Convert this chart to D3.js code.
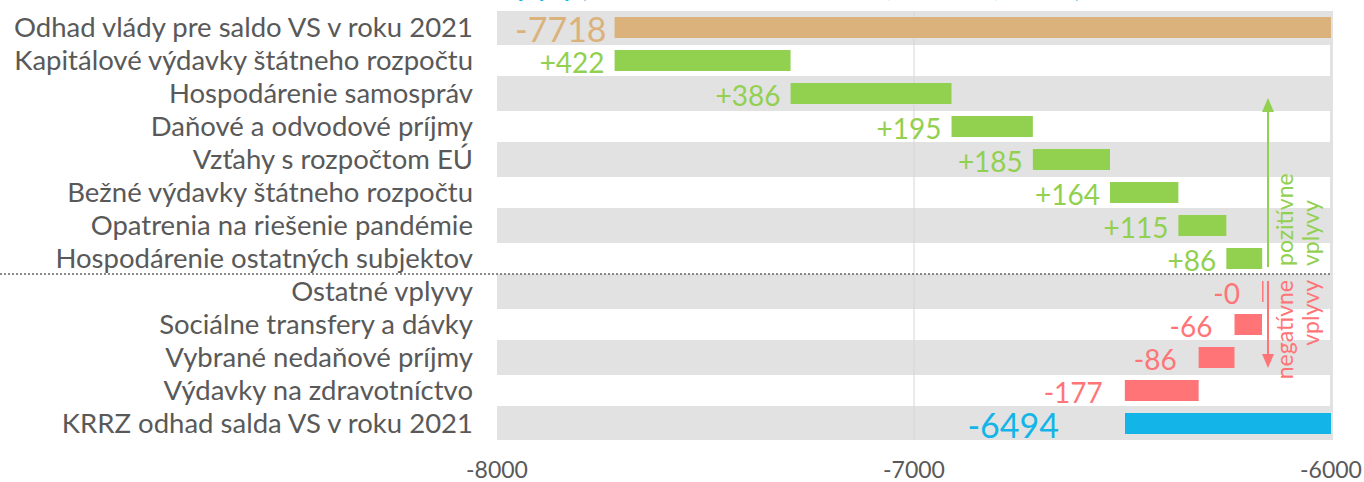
<!DOCTYPE html>
<html>
<head>
<meta charset="utf-8">
<script src="https://cdn.jsdelivr.net/npm/d3@7"></script>
<style>
  body { margin: 0; background: #fff; }
  svg { display: block; font-family: "Century Gothic", Lato, "Noto Sans", sans-serif; }
</style>
</head>
<body>
<svg id="chart" width="1364" height="482"></svg>
<script>
// categories, top to bottom
var categories = [
  'Odhad vlády pre saldo VS v roku 2021',
  'Kapitálové výdavky štátneho rozpočtu',
  'Hospodárenie samospráv',
  'Daňové a odvodové príjmy',
  'Vzťahy s rozpočtom EÚ',
  'Bežné výdavky štátneho rozpočtu',
  'Opatrenia na riešenie pandémie',
  'Hospodárenie ostatných subjektov',
  'Ostatné vplyvy',
  'Sociálne transfery a dávky',
  'Vybrané nedaňové príjmy',
  'Výdavky na zdravotníctvo',
  'KRRZ odhad salda VS v roku 2021'
];

// values (mil. eur): start total, changes, end total
var values = [-7718, 422, 386, 195, 185, 164, 115, 86, -0.4, -66, -86, -177, -6494];
var valueLabels = ['-7718', '+422', '+386', '+195', '+185', '+164', '+115', '+86', '-0', '-66', '-86', '-177', '-6494'];
var kinds = ['start', 'pos', 'pos', 'pos', 'pos', 'pos', 'pos', 'pos', 'neg', 'neg', 'neg', 'neg', 'total'];

var xTicks = [-8000, -7000, -6000];

var colors = { start: '#dbb27b', pos: '#92d050', neg: '#ff7577', total: '#13b5e8' };
var textGray = '#595959';

var svg = d3.select('#chart');

var x = d3.scaleLinear().domain([-8000, -6000]).range([497, 1331]);
var y = d3.scaleBand().domain(d3.range(categories.length)).range([11, 440]).paddingInner(0);
var rowH = y.bandwidth();
var barH = 21;

// build waterfall segments
var running = 0;
var bars = values.map(function(v, i) {
  var from, to;
  if (kinds[i] === 'start' || kinds[i] === 'total') {
    from = v; to = x.domain()[1];
    running = v;
  } else {
    from = running; to = running + v;
    running = to;
  }
  return { i: i, lo: Math.min(from, to), hi: Math.max(from, to), kind: kinds[i], label: valueLabels[i] };
});

// title (cut off at top)
svg.append('text')
  .attr('x', 505).attr('y', -3)
  .style('font-size', '24px').style('font-weight', 'bold')
  .style('fill', '#13b5e8')
  .text('vplyvy (rozdiel medzi odhadmi salda, v mil. eur, zmena)');

// plot background and row bands
svg.append('rect')
  .attr('x', x(-8000)).attr('y', y(0))
  .attr('width', x(-6000) - x(-8000) + 2).attr('height', rowH * categories.length)
  .style('fill', '#e2e2e2');

svg.selectAll('rect.band')
  .data(d3.range(categories.length).filter(function(i) { return i % 2 === 1; }))
  .enter().append('rect')
  .attr('class', 'band')
  .attr('x', x(-8000))
  .attr('y', function(i) { return y(i) + 1; })
  .attr('width', x(-6000) - x(-8000) - 1)
  .attr('height', rowH - 2)
  .style('fill', '#fff');

// gridline at -7000
svg.append('line')
  .attr('x1', x(-7000)).attr('x2', x(-7000))
  .attr('y1', y(0)).attr('y2', y(categories.length - 1) + rowH)
  .style('stroke', '#d6d6d6').style('stroke-width', 1);

// category labels
svg.selectAll('text.cat')
  .data(categories)
  .enter().append('text')
  .attr('class', 'cat')
  .attr('x', 473)
  .attr('y', function(d, i) { return y(i) + rowH / 2 + 9; })
  .attr('text-anchor', 'end')
  .style('font-size', '27.5px')
  .style('fill', textGray)
  .text(function(d) { return d; });

// bars
svg.selectAll('rect.bar')
  .data(bars)
  .enter().append('rect')
  .attr('class', 'bar')
  .attr('x', function(d) { return x(d.lo); })
  .attr('y', function(d) { return y(d.i) + (rowH - barH) / 2; })
  .attr('width', function(d) { return Math.max(1.5, x(d.hi) - x(d.lo)); })
  .attr('height', barH)
  .style('fill', function(d) { return colors[d.kind]; });

// value labels
var gaps = { start: 8, pos: 10, neg: 22, total: 66 };
svg.selectAll('text.val')
  .data(bars)
  .enter().append('text')
  .attr('class', 'val')
  .attr('x', function(d) { return x(d.lo) - gaps[d.kind]; })
  .attr('y', function(d) {
    var big = d.kind === 'start' || d.kind === 'total';
    return y(d.i) + rowH / 2 + (big ? 14 : 12);
  })
  .attr('text-anchor', 'end')
  .style('font-size', function(d) { return (d.kind === 'start' || d.kind === 'total') ? '34px' : '28px'; })
  .style('fill', function(d) { return colors[d.kind]; })
  .text(function(d) { return d.label; });

// dotted separator between positive and negative effects
var sepY = y(8) - 1;
svg.append('line')
  .attr('x1', 0).attr('x2', x(-6000))
  .attr('y1', sepY).attr('y2', sepY)
  .style('stroke', '#666').style('stroke-width', 1.6)
  .style('stroke-dasharray', '2,2');

// arrows
var arrowX = 1268;
function arrow(y1, y2, color) {
  var dir = y2 < y1 ? 1 : -1;
  svg.append('line')
    .attr('x1', arrowX).attr('x2', arrowX)
    .attr('y1', y1).attr('y2', y2 + dir * 12)
    .style('stroke', color).style('stroke-width', 2);
  svg.append('path')
    .attr('d', 'M' + (arrowX - 6) + ',' + (y2 + dir * 14) + 'L' + arrowX + ',' + y2 + 'L' + (arrowX + 6) + ',' + (y2 + dir * 14) + 'Z')
    .style('fill', color);
}
arrow(267, 98, colors.pos);
arrow(281, 368, colors.neg);

// rotated side labels
function sideText(xPos, yPos, anchor, txt, color) {
  svg.append('text')
    .attr('transform', 'translate(' + xPos + ',' + yPos + ') rotate(-90)')
    .attr('text-anchor', anchor)
    .style('font-size', '23px')
    .style('fill', color)
    .text(txt);
}
sideText(1293, 266, 'start', 'pozitívne', colors.pos);
sideText(1319, 266, 'start', 'vplyvy', colors.pos);
sideText(1293, 280, 'end', 'negatívne', colors.neg);
sideText(1319, 280, 'end', 'vplyvy', colors.neg);

// x axis tick labels
svg.selectAll('text.tick')
  .data(xTicks)
  .enter().append('text')
  .attr('class', 'tick')
  .attr('x', function(d) { return x(d); })
  .attr('y', 478)
  .attr('text-anchor', 'middle')
  .style('font-size', '23px')
  .style('fill', textGray)
  .text(function(d) { return d; });
</script>
</body>
</html>
